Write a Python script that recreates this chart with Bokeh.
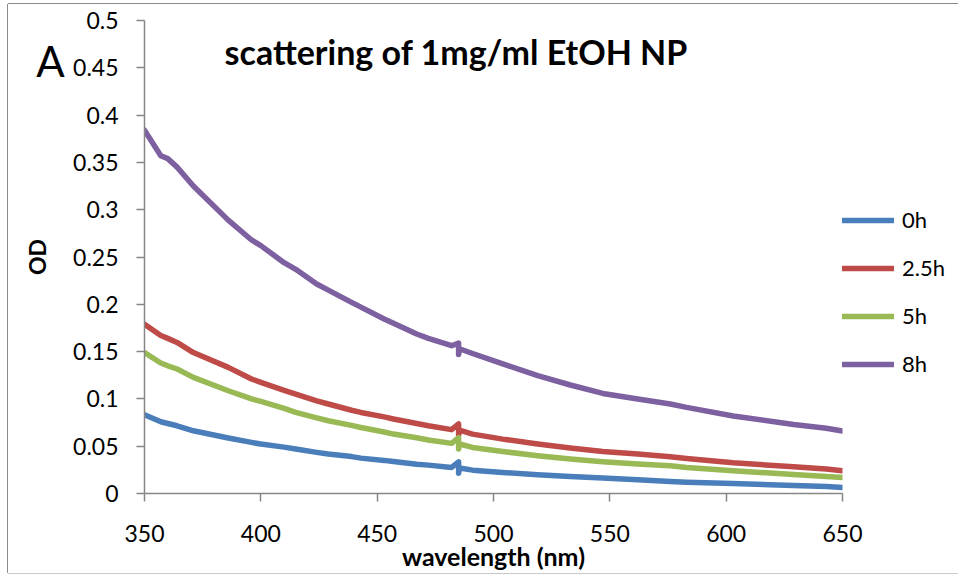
import math
from bokeh.plotting import figure
from bokeh.models import (Range1d, FixedTicker, CustomJSTickFormatter, Label,
                          Legend, LegendItem, ColumnDataSource)
from bokeh.embed import file_html
from bokeh.resources import INLINE

# ---- data ----
wavelength = [350, 357, 360, 364, 371, 386, 396, 400, 410, 415,
              424, 429, 439, 443, 453, 457, 467, 472, 482, 485,
              485, 485.4, 491, 504, 519, 533, 547, 562, 576, 583,
              603, 629, 643, 650]
od_0h = [0.0832, 0.0758, 0.074, 0.0716, 0.0663, 0.0586, 0.054, 0.0523, 0.049, 0.047,
         0.0435, 0.0417, 0.039, 0.0374, 0.035, 0.0338, 0.031, 0.030, 0.0275, 0.0335,
         0.0215, 0.027, 0.0247, 0.0222, 0.0198, 0.018, 0.0163, 0.0145, 0.0127, 0.012,
         0.0106, 0.0085, 0.0074, 0.0063]
od_2_5h = [0.179, 0.167, 0.164, 0.1597, 0.149, 0.1333, 0.121, 0.1174, 0.109, 0.1051,
           0.098, 0.0946, 0.088, 0.0857, 0.081, 0.0787, 0.074, 0.0716, 0.0675, 0.0735,
           0.0615, 0.067, 0.0628, 0.0575, 0.0523, 0.048, 0.0444, 0.0417, 0.0388, 0.037,
           0.0325, 0.0282, 0.0258, 0.024]
od_5h = [0.149, 0.138, 0.135, 0.1316, 0.1227, 0.1086, 0.1, 0.0973, 0.090, 0.0857,
         0.080, 0.0769, 0.072, 0.0698, 0.065, 0.0628, 0.059, 0.0565, 0.053, 0.059,
         0.047, 0.0523, 0.0487, 0.0444, 0.0399, 0.0364, 0.0335, 0.0311, 0.0293, 0.0275,
         0.024, 0.0201, 0.018, 0.017]
od_8h = [0.384, 0.357, 0.354, 0.345, 0.325, 0.289, 0.268, 0.262, 0.244, 0.237,
         0.2215, 0.215, 0.202, 0.197, 0.1845, 0.180, 0.1686, 0.164, 0.1562, 0.159,
         0.147, 0.153, 0.148, 0.137, 0.1245, 0.1147, 0.1058, 0.0998, 0.0946, 0.091,
         0.082, 0.073, 0.069, 0.066]
series_names = ["0h", "2.5h", "5h", "8h"]
series_values = [od_0h, od_2_5h, od_5h, od_8h]
series_colors = ["#4A7EBB", "#BE4B48", "#98B954", "#7D60A0"]
x_ticks = [350, 400, 450, 500, 550, 600, 650]
y_ticks = [0, 0.05, 0.1, 0.15, 0.2, 0.25, 0.3, 0.35, 0.4, 0.45, 0.5]

FONT = "Lato"
AXIS_GRAY = "#868686"

p = figure(frame_width=698, frame_height=473, output_backend="svg",
           toolbar_location=None,
           x_range=Range1d(350, 650), y_range=Range1d(0, 0.5),
           min_border_left=136, min_border_right=115,
           min_border_top=16, min_border_bottom=80)
p.outline_line_color = None
p.xgrid.visible = False
p.ygrid.visible = False
p.background_fill_color = "white"
p.border_fill_color = "white"
p.styles = {"margin-left": "8px", "margin-top": "4px",
            "box-shadow": "-1px 0 0 #8c8c8c, 0 -1px 0 #8c8c8c, 0 1px 0 #c8c8c8"}

items = []
for name, vals, col in zip(series_names, series_values, series_colors):
    src = ColumnDataSource(dict(x=wavelength, y=vals))
    r = p.line("x", "y", source=src, line_color=col, line_width=5.5,
               line_cap="round", line_join="round")
    items.append(LegendItem(label=name, renderers=[r]))

# axes
for ax in (p.xaxis[0], p.yaxis[0]):
    ax.axis_line_color = AXIS_GRAY
    ax.axis_line_width = 1.5
    ax.major_tick_line_color = AXIS_GRAY
    ax.major_tick_line_width = 1.5
    ax.major_tick_in = 0
    ax.major_tick_out = 8
    ax.minor_tick_line_color = None
    ax.major_label_text_font = FONT
    ax.major_label_text_font_size = "23px"
    ax.major_label_text_color = "black"
    ax.axis_label_text_font = FONT
    ax.axis_label_text_font_style = "bold"
    ax.axis_label_text_font_size = "25px"
    ax.axis_label_text_color = "black"

p.xaxis.ticker = FixedTicker(ticks=x_ticks)
p.yaxis.ticker = FixedTicker(ticks=y_ticks)
p.yaxis.formatter = CustomJSTickFormatter(code="return String(Math.round(tick*100)/100);")
p.xaxis.axis_label = "wavelength (nm)"
p.xaxis.major_label_standoff = 23
p.yaxis.major_label_standoff = 18
p.xaxis.axis_label_standoff = -4

# legend in the right-hand panel; a blank title pushes the items down
legend = Legend(items=items, location="top_left", orientation="vertical",
                border_line_color=None, background_fill_alpha=0,
                padding=0, margin=0, spacing=21,
                glyph_width=52, glyph_height=20, label_height=20,
                label_standoff=8,
                title=" ", title_text_font_size="10px", title_standoff=175,
                label_text_font=FONT, label_text_font_size="22px",
                label_text_color="black", label_text_baseline="middle")
p.add_layout(legend, "right")

title = Label(x=484, y=0.467, text="scattering of 1mg/ml EtOH NP",
              text_font=FONT, text_font_style="bold",
              text_font_size="34px", text_align="center",
              text_baseline="middle", text_color="black")
p.add_layout(title)

panel_letter = Label(x=309.6, y=0.457, text="A", text_font=FONT,
                     text_font_size="42px", text_align="center",
                     text_baseline="middle", text_color="black")
p.add_layout(panel_letter, "left")

y_label = Label(x=304, y=0.25, text="OD", angle=math.pi / 2,
                text_font=FONT, text_font_style="bold",
                text_font_size="23px", text_align="center",
                text_baseline="middle", text_color="black")
p.add_layout(y_label, "left")

open("out.html", "w").write(file_html(p, INLINE))
